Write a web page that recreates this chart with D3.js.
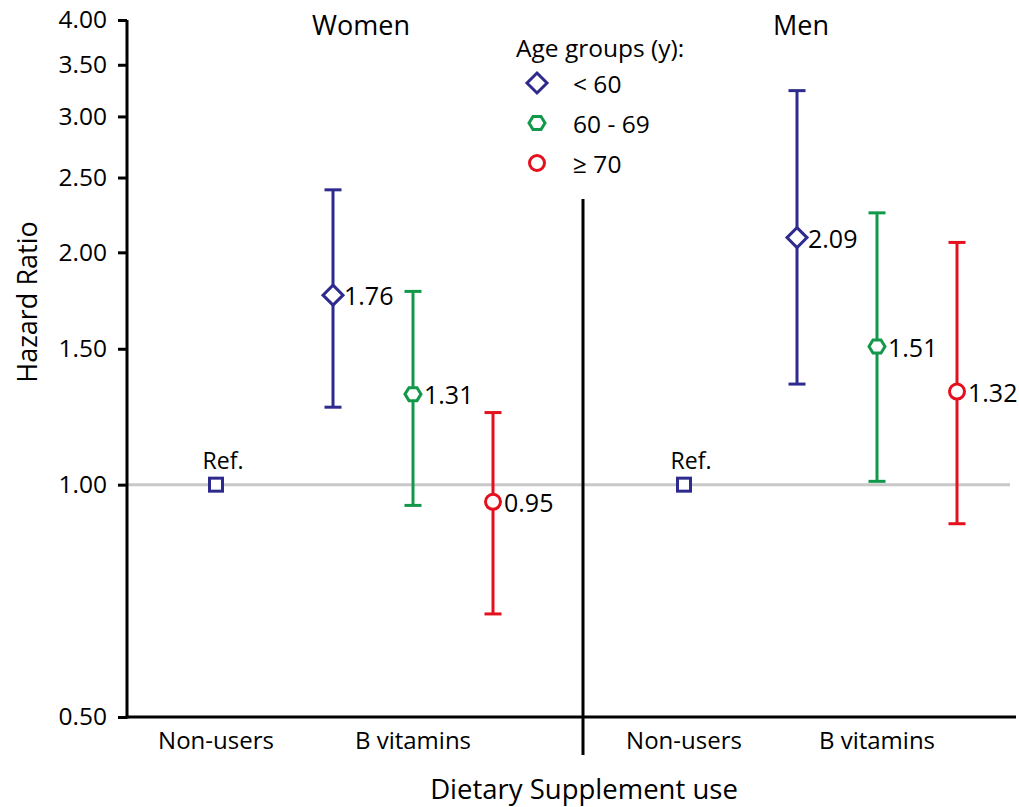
<!DOCTYPE html>
<html>
<head>
<meta charset="utf-8">
<script src="https://cdn.jsdelivr.net/npm/d3@7/dist/d3.min.js"></script>
<style>
  html, body { margin: 0; padding: 0; background: #fff; }
  svg { display: block; font-family: "Open Sans", "Noto Sans", sans-serif; }
</style>
</head>
<body>
<svg id="chart" width="1019" height="807"></svg>
<script>
// Hazard ratios by sex, supplement use and age group
const panels = ["Women", "Men"];
const categories = ["Non-users", "B vitamins"];
const ageGroups = ["< 60", "60 - 69", "\u2265 70"];
const groupColors = ["#2f2b8e", "#12984a", "#e5101d"];
const groupShapes = ["diamond", "hexagon", "circle"];

// B vitamin users: point estimate and 95% CI, per age group
const womenHR = [1.76, 1.31, 0.95];
const womenLower = [1.26, 0.94, 0.68];
const womenUpper = [2.41, 1.78, 1.24];
const menHR = [2.09, 1.51, 1.32];
const menLower = [1.35, 1.01, 0.89];
const menUpper = [3.24, 2.25, 2.06];
const referenceHR = 1.00;

const yTicks = [0.50, 1.00, 1.50, 2.00, 2.50, 3.00, 3.50, 4.00];

const svg = d3.select("#chart");
const plotLeft = 127, plotRight = 1016, plotTop = 20, plotBottom = 717, divider = 583;

const y = d3.scaleLog().domain([0.5, 4]).range([plotBottom, plotTop]);

// each panel gets its own category scale
const xPanel = {
  Women: d3.scalePoint().domain(categories).range([216, 413]),
  Men: d3.scalePoint().domain(categories).range([684, 877])
};
const groupOffset = d3.scalePoint().domain(ageGroups).range([-80, 80]);

// reference line at HR = 1
svg.append("line")
  .attr("x1", plotLeft).attr("x2", 1010)
  .attr("y1", y(referenceHR)).attr("y2", y(referenceHR))
  .attr("stroke", "#c8c8c8").attr("stroke-width", 3);

// y axis
const yAxis = d3.axisLeft(y)
  .tickValues(yTicks)
  .tickFormat(d3.format(".2f"))
  .tickSize(9).tickPadding(11);
const gy = svg.append("g").attr("transform", `translate(${plotLeft},0)`).call(yAxis);
gy.select(".domain").attr("stroke", "#000").attr("stroke-width", 3)
  .attr("d", `M0,${plotTop}V${plotBottom + 1.5}`);
gy.selectAll(".tick line").attr("stroke", "#000").attr("stroke-width", 3);
gy.selectAll(".tick text").attr("font-size", 24.5).attr("fill", "#000")
  .attr("font-family", "\"Open Sans\", sans-serif");

// x axis baseline
svg.append("line")
  .attr("x1", plotLeft - 1.5).attr("x2", plotRight)
  .attr("y1", plotBottom).attr("y2", plotBottom)
  .attr("stroke", "#000").attr("stroke-width", 3);

// panel divider
svg.append("line")
  .attr("x1", divider).attr("x2", divider)
  .attr("y1", 199).attr("y2", 755)
  .attr("stroke", "#000").attr("stroke-width", 3);

// category labels
panels.forEach(p => {
  categories.forEach(c => {
    svg.append("text")
      .attr("x", xPanel[p](c)).attr("y", 749)
      .attr("text-anchor", "middle")
      .attr("font-size", 24)
      .text(c);
  });
});

// panel titles
svg.append("text").attr("x", 361).attr("y", 35).attr("text-anchor", "middle")
  .attr("font-size", 27).text("Women");
svg.append("text").attr("x", 801).attr("y", 35).attr("text-anchor", "middle")
  .attr("font-size", 27).text("Men");

// axis titles
svg.append("text")
  .attr("x", 584).attr("y", 799).attr("text-anchor", "middle")
  .attr("font-size", 27.5).text("Dietary Supplement use");
svg.append("text")
  .attr("transform", "translate(30,302) rotate(-90)")
  .attr("text-anchor", "middle").attr("dominant-baseline", "middle")
  .attr("font-size", 27).text("Hazard Ratio");

// marker drawing helper
function drawMarker(g, shape, cx, cy, color) {
  if (shape === "diamond") {
    const s = 10;
    g.append("path").attr("d", `M${cx},${cy - s}L${cx + s},${cy}L${cx},${cy + s}L${cx - s},${cy}Z`)
      .attr("fill", "#fff").attr("stroke", color).attr("stroke-width", 3);
  } else if (shape === "hexagon") {
    const w = 8, h = 6.5;
    g.append("path").attr("d",
      `M${cx - w},${cy}L${cx - w / 2},${cy - h}L${cx + w / 2},${cy - h}L${cx + w},${cy}L${cx + w / 2},${cy + h}L${cx - w / 2},${cy + h}Z`)
      .attr("fill", "#fff").attr("stroke", color).attr("stroke-width", 3);
  } else if (shape === "circle") {
    g.append("circle").attr("cx", cx).attr("cy", cy).attr("r", 7.5)
      .attr("fill", "#fff").attr("stroke", color).attr("stroke-width", 3);
  } else if (shape === "square") {
    const s = 6.5;
    g.append("rect").attr("x", cx - s).attr("y", cy - s).attr("width", 2 * s).attr("height", 2 * s)
      .attr("fill", "#fff").attr("stroke", color).attr("stroke-width", 3);
  }
}

const data = {
  Women: { hr: womenHR, lo: womenLower, hi: womenUpper },
  Men: { hr: menHR, lo: menLower, hi: menUpper }
};

panels.forEach(p => {
  const g = svg.append("g");
  // reference (non-users)
  const rx = xPanel[p]("Non-users");
  drawMarker(g, "square", rx, y(referenceHR), groupColors[0]);
  g.append("text").attr("x", rx + 7).attr("y", y(referenceHR) - 16)
    .attr("text-anchor", "middle").attr("font-size", 23).text("Ref.");

  // B vitamin users by age group
  ageGroups.forEach((a, i) => {
    const cx = xPanel[p]("B vitamins") + groupOffset(a);
    const d = data[p];
    const col = groupColors[i];
    const cap = 8.5;
    g.append("line").attr("x1", cx).attr("x2", cx)
      .attr("y1", y(d.lo[i])).attr("y2", y(d.hi[i]))
      .attr("stroke", col).attr("stroke-width", 3);
    [d.lo[i], d.hi[i]].forEach(v => {
      g.append("line").attr("x1", cx - cap).attr("x2", cx + cap)
        .attr("y1", y(v)).attr("y2", y(v))
        .attr("stroke", col).attr("stroke-width", 3);
    });
    drawMarker(g, groupShapes[i], cx, y(d.hr[i]), col);
    g.append("text").attr("x", cx + 11).attr("y", y(d.hr[i]))
      .attr("dominant-baseline", "central").attr("font-size", 25)
      .text(d3.format(".2f")(d.hr[i]));
  });
});

// legend
const lg = svg.append("g");
lg.append("text").attr("x", 516).attr("y", 57).attr("font-size", 24.5).text("Age groups (y):");
ageGroups.forEach((a, i) => {
  const yy = 83 + i * 40;
  drawMarker(lg, groupShapes[i], 537, yy, groupColors[i]);
  lg.append("text").attr("x", 573).attr("y", yy).attr("dominant-baseline", "central")
    .attr("font-size", 24.5).text(a);
});
</script>
</body>
</html>
